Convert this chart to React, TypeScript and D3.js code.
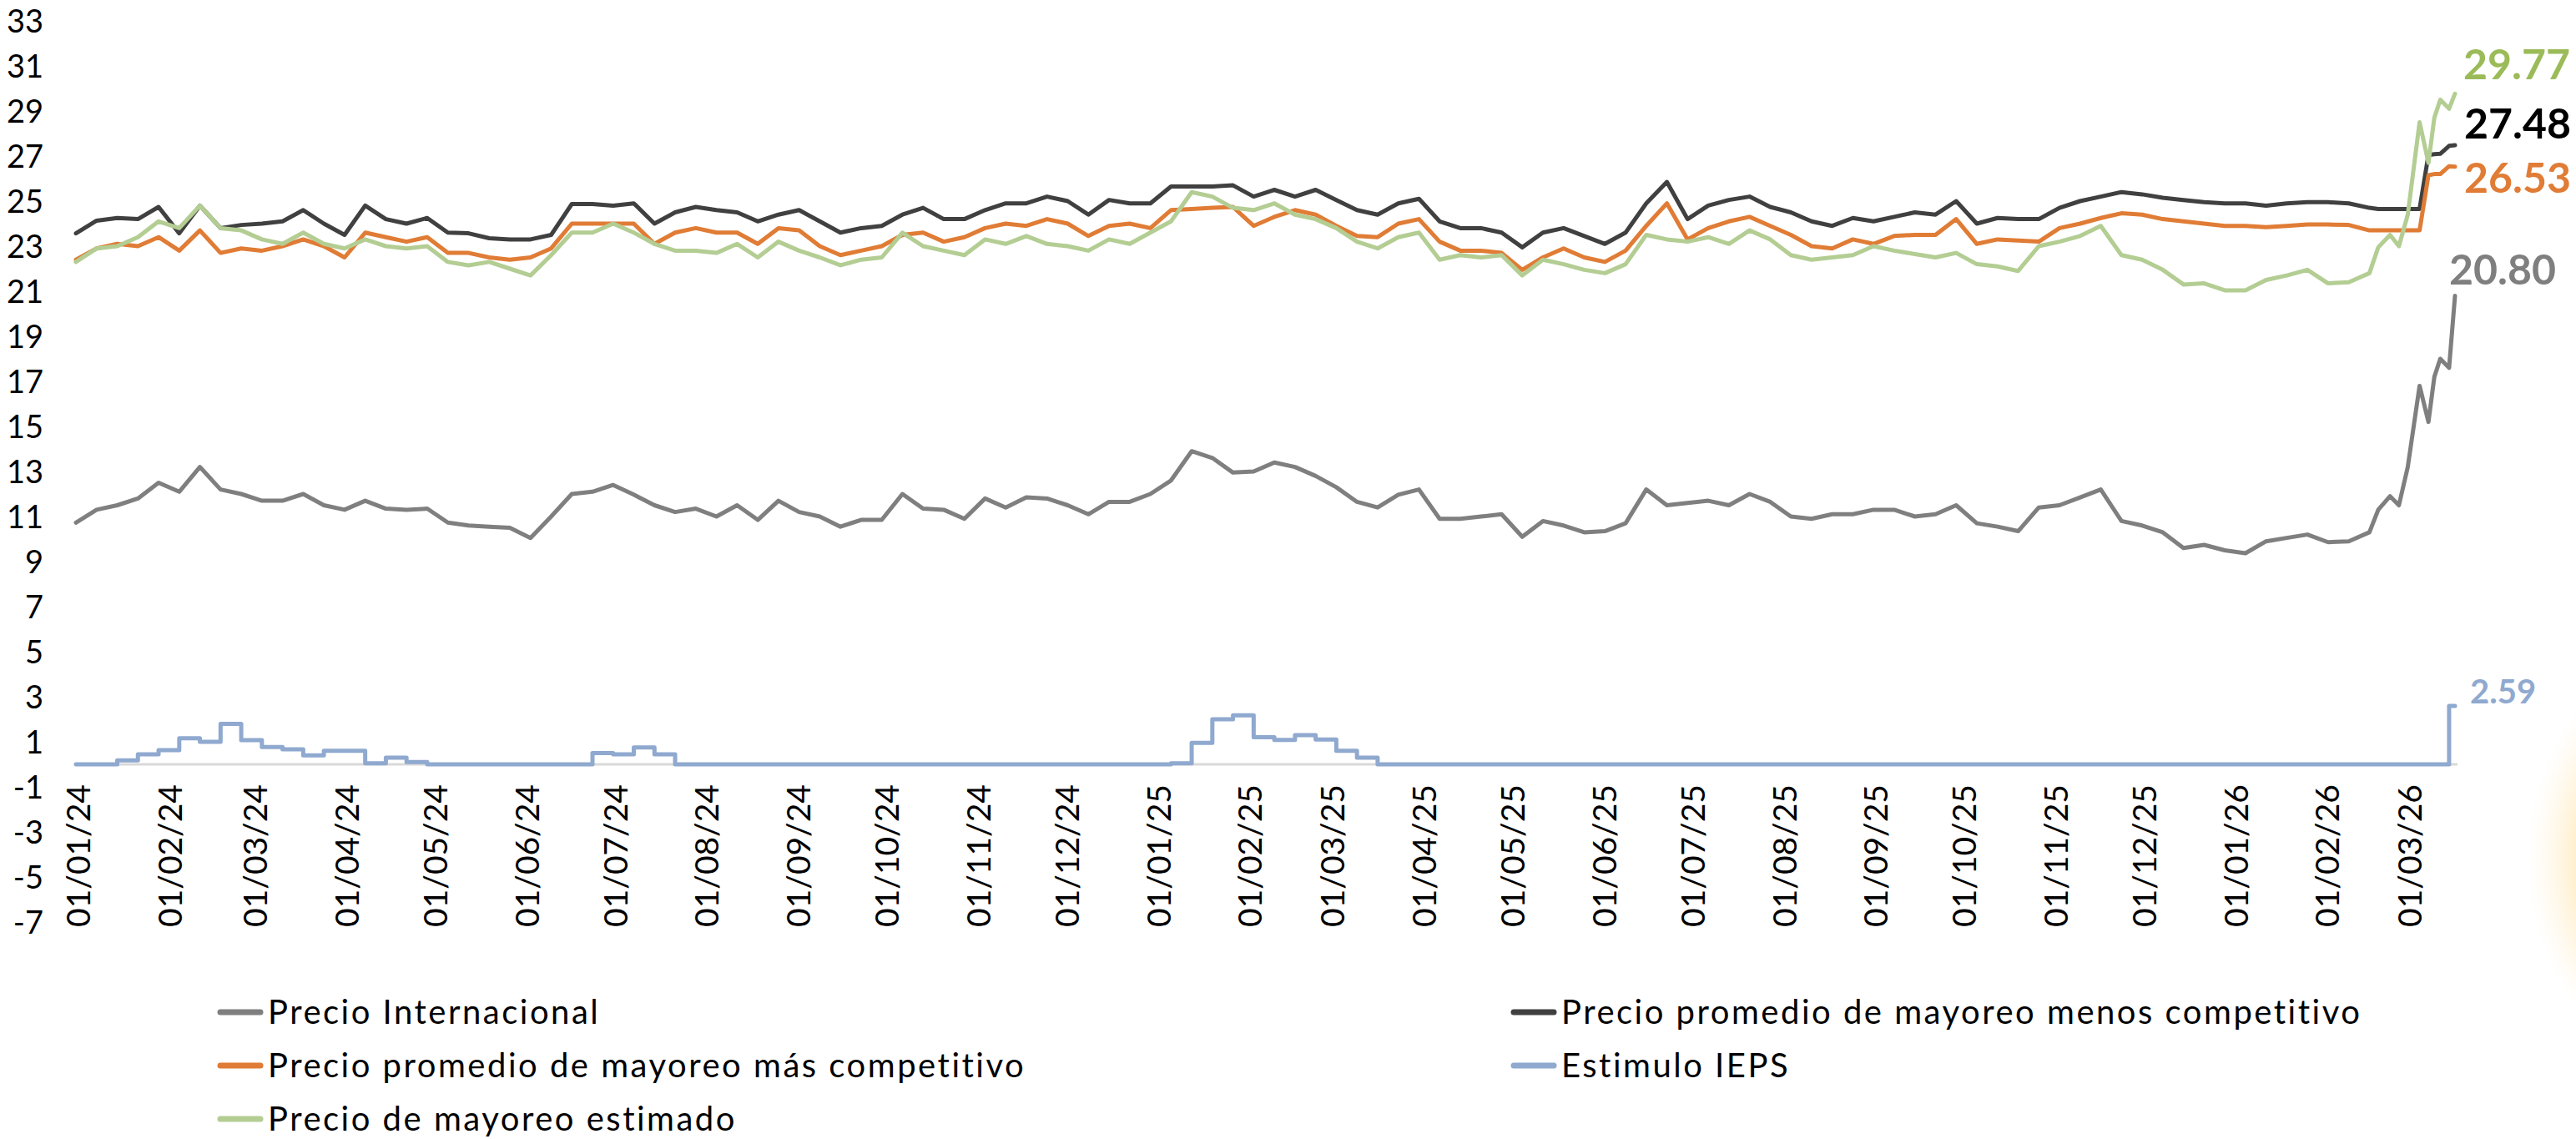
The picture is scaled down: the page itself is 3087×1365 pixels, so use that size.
import React, { useEffect, useRef } from "react";
import * as d3 from "d3";

// weekly observations from 01/01/24 to 16/02/26, then the last days of the series
const startDate = new Date(2024, 0, 1);
const endDate = new Date(2026, 2, 17);
const weeklyDates = d3.timeDay.range(startDate, new Date(2026, 1, 17), 7);
const tailDates = [
  "2026-02-19", "2026-02-23", "2026-02-26", "2026-03-01", "2026-03-05",
  "2026-03-08", "2026-03-10", "2026-03-12", "2026-03-15", "2026-03-17",
];

const weeklyInternacional = [
  10.73, 11.3, 11.5, 11.8, 12.5, 12.1, 13.2, 12.2, 12.0, 11.7,
  11.7, 12.0, 11.5, 11.3, 11.7, 11.35, 11.3, 11.35, 10.73, 10.6,
  10.55, 10.5, 10.05, 11.0, 12.0, 12.1, 12.4, 11.97, 11.5, 11.2,
  11.35, 11.0, 11.5, 10.85, 11.7, 11.2, 11.0, 10.55, 10.85, 10.85,
  12.0, 11.35, 11.3, 10.9, 11.8, 11.4, 11.85, 11.8, 11.5, 11.1,
  11.65, 11.65, 12.0, 12.6, 13.9, 13.6, 12.95, 13.0, 13.4,
  13.2, 12.8, 12.3, 11.65, 11.4, 11.97, 12.2, 10.9, 10.9, 11.0,
  11.1, 10.1, 10.8, 10.6, 10.3, 10.35, 10.7, 12.2, 11.5, 11.6,
  11.7, 11.5, 12.0, 11.65, 11.0, 10.9, 11.1, 11.1, 11.3,
  11.3, 11.0, 11.1, 11.5, 10.7, 10.55, 10.35, 11.4, 11.5, 11.85,
  12.2, 10.8, 10.6, 10.3, 9.6, 9.74, 9.5, 9.37, 9.9, 10.05,
  10.2, 9.86, 9.9, 10.3,
];
const tailInternacional = [11.3, 11.9, 11.5, 13.2, 16.8, 15.2, 17.2, 18.0, 17.6, 20.8];

const weeklyMenosCompetitivo = [
  23.57, 24.13, 24.25, 24.2, 24.74, 23.57, 24.8, 23.8, 23.94, 24.0,
  24.1, 24.6, 24.0, 23.5, 24.8, 24.2, 24.0, 24.25, 23.6, 23.57,
  23.35, 23.3, 23.3, 23.5, 24.87, 24.87, 24.8, 24.9, 24.0, 24.5,
  24.74, 24.6, 24.5, 24.1, 24.4, 24.6, 24.1, 23.6, 23.8, 23.9,
  24.4, 24.7, 24.2, 24.2, 24.6, 24.9, 24.9, 25.2, 25.0, 24.4,
  25.05, 24.9, 24.9, 25.65, 25.65, 25.65, 25.7, 25.2, 25.5,
  25.2, 25.5, 25.05, 24.6, 24.4, 24.9, 25.1, 24.1, 23.8, 23.8,
  23.6, 22.95, 23.6, 23.8, 23.45, 23.1, 23.6, 24.9, 25.85, 24.2,
  24.8, 25.05, 25.2, 24.74, 24.5, 24.1, 23.9, 24.25, 24.1,
  24.3, 24.5, 24.4, 25.0, 24.0, 24.25, 24.2, 24.2, 24.7, 25.0,
  25.2, 25.4, 25.3, 25.15, 25.05, 24.95, 24.9, 24.9, 24.8, 24.9,
  24.95, 24.95, 24.9, 24.7,
];
const tailMenosCompetitivo = [24.65, 24.65, 24.65, 24.65, 24.65, 27.05, 27.08, 27.1, 27.45, 27.48];

const weeklyMasCompetitivo = [
  22.4, 22.9, 23.1, 23.0, 23.4, 22.8, 23.7, 22.7, 22.9, 22.8,
  23.0, 23.3, 23.0, 22.5, 23.6, 23.4, 23.2, 23.4, 22.7, 22.7,
  22.5, 22.4, 22.5, 22.9, 24.0, 24.0, 24.0, 24.0, 23.1, 23.6,
  23.8, 23.6, 23.6, 23.1, 23.8, 23.7, 23.0, 22.6, 22.8, 23.0,
  23.5, 23.6, 23.2, 23.4, 23.8, 24.0, 23.9, 24.2, 24.0, 23.45,
  23.9, 24.0, 23.8, 24.6, 24.65, 24.7, 24.74, 23.9, 24.3,
  24.6, 24.4, 23.9, 23.45, 23.4, 24.0, 24.2, 23.2, 22.8, 22.8,
  22.7, 21.95, 22.5, 22.9, 22.5, 22.3, 22.8, 23.9, 24.9, 23.3,
  23.8, 24.1, 24.3, 23.9, 23.5, 23.0, 22.9, 23.3, 23.1,
  23.45, 23.5, 23.5, 24.2, 23.1, 23.3, 23.25, 23.2, 23.8, 24.0,
  24.25, 24.46, 24.4, 24.2, 24.1, 24.0, 23.9, 23.9, 23.84, 23.9,
  23.96, 23.96, 23.94, 23.7,
];
const tailMasCompetitivo = [23.7, 23.7, 23.7, 23.7, 23.7, 26.15, 26.2, 26.2, 26.55, 26.53];

const weeklyEstimado = [
  22.3, 22.9, 23.0, 23.4, 24.1, 23.8, 24.8, 23.8, 23.7, 23.3,
  23.1, 23.6, 23.1, 22.9, 23.3, 23.0, 22.9, 23.0, 22.3, 22.15,
  22.3, 22.0, 21.7, 22.6, 23.6, 23.6, 24.0, 23.6, 23.1, 22.8,
  22.8, 22.7, 23.1, 22.5, 23.2, 22.8, 22.5, 22.15, 22.4, 22.5,
  23.6, 23.0, 22.8, 22.6, 23.3, 23.1, 23.45, 23.1, 23.0, 22.8,
  23.3, 23.1, 23.6, 24.1, 25.4, 25.2, 24.7, 24.6, 24.9,
  24.4, 24.2, 23.8, 23.2, 22.9, 23.4, 23.6, 22.4, 22.6, 22.5,
  22.6, 21.7, 22.4, 22.2, 21.95, 21.8, 22.2, 23.5, 23.3, 23.2,
  23.4, 23.1, 23.7, 23.3, 22.6, 22.4, 22.5, 22.6, 23.0,
  22.8, 22.65, 22.5, 22.7, 22.2, 22.1, 21.9, 23.0, 23.2, 23.45,
  23.9, 22.6, 22.4, 21.95, 21.3, 21.35, 21.04, 21.04, 21.5, 21.7,
  21.95, 21.35, 21.4, 21.8,
];
const tailEstimado = [22.95, 23.5, 23.0, 24.4, 28.5, 26.7, 28.7, 29.5, 29.1, 29.77];

const weeklyIeps = [
  0, 0, 0.18, 0.44, 0.63, 1.16, 1.0, 1.8, 1.07, 0.77,
  0.67, 0.4, 0.6, 0.6, 0.05, 0.3, 0.1, 0, 0, 0,
  0, 0, 0, 0, 0, 0.5, 0.44, 0.75, 0.44, 0,
  0, 0, 0, 0, 0, 0, 0, 0, 0, 0,
  0, 0, 0, 0, 0, 0, 0, 0, 0, 0,
  0, 0, 0, 0.05, 0.95, 2.0, 2.18, 1.2, 1.08, 1.3,
  1.1, 0.6, 0.3, 0, 0, 0, 0, 0, 0, 0,
  0, 0, 0, 0, 0, 0, 0, 0, 0, 0,
  0, 0, 0, 0, 0, 0, 0, 0, 0, 0,
  0, 0, 0, 0, 0, 0, 0, 0, 0, 0,
  0, 0, 0, 0, 0, 0, 0, 0, 0, 0,
  0, 0,
];
const tailIeps = [0, 0, 0, 0, 0, 0, 0, 0, 2.59, 2.59];

const yTicks = d3.range(-7, 34, 2);

const App = () => {
  const ref = useRef<SVGSVGElement>(null);

  useEffect(() => {
    const width = 3087;
    const height = 1365;
    const font = "Lato, 'Open Sans', sans-serif";

    const parse = d3.timeParse("%Y-%m-%d");
    const dates = [...weeklyDates, ...tailDates.map((d) => parse(d) as Date)];

    const series = [
      { name: "Precio Internacional", values: [...weeklyInternacional, ...tailInternacional], color: "#7f7f7f", label: "#7f7f7f", dx: -7, dy: -13 },
      { name: "Precio promedio de mayoreo menos competitivo", values: [...weeklyMenosCompetitivo, ...tailMenosCompetitivo], color: "#404040", label: "#000000", dx: 11, dy: -8 },
      { name: "Precio promedio de mayoreo más competitivo", values: [...weeklyMasCompetitivo, ...tailMasCompetitivo], color: "#e07c35", label: "#e07c35", dx: 11, dy: 31 },
      { name: "Estimulo IEPS", values: [...weeklyIeps, ...tailIeps], color: "#8fa9cf", label: "#8fa9cf", dx: 18, dy: -3, step: true, small: true },
      { name: "Precio de mayoreo estimado", values: [...weeklyEstimado, ...tailEstimado], color: "#b3cd93", label: "#9bbb59", dx: 10, dy: -17 },
    ];

    const x = d3.scaleTime().domain([startDate, endDate]).range([91, 2942]);
    const y = d3.scaleLinear().domain([-7, 33]).range([1105, 25]);

    const svg = d3.select(ref.current);
    svg.selectAll("*").remove();
    svg.attr("width", width).attr("height", height);

    svg.append("rect").attr("width", width).attr("height", height).attr("fill", "#ffffff");

    // soft decorative circle on the right edge
    const defs = svg.append("defs");
    const grad = defs.append("radialGradient").attr("id", "glow");
    grad.append("stop").attr("offset", "0%").attr("stop-color", "#ffe3a3");
    grad.append("stop").attr("offset", "80%").attr("stop-color", "#ffefcc");
    grad.append("stop").attr("offset", "100%").attr("stop-color", "#fff8ea").attr("stop-opacity", 0);
    svg.append("circle").attr("cx", 3327).attr("cy", 1030).attr("r", 300).attr("fill", "url(#glow)");

    // y axis labels
    svg.append("g")
      .selectAll("text")
      .data(yTicks)
      .enter()
      .append("text")
      .attr("x", 52)
      .attr("y", (d) => y(d))
      .attr("dy", "0.36em")
      .attr("text-anchor", "end")
      .attr("font-family", font)
      .attr("font-size", 38)
      .attr("fill", "#000")
      .text((d) => String(d));

    // zero line
    svg.append("line")
      .attr("x1", 91).attr("x2", 2945)
      .attr("y1", y(0)).attr("y2", y(0))
      .attr("stroke", "#d9d9d9").attr("stroke-width", 3);

    // x axis labels
    const months = d3.timeMonth.range(startDate, new Date(2026, 2, 2));
    const fmt = d3.timeFormat("%d/%m/%y");
    svg.append("g")
      .selectAll("text")
      .data(months)
      .enter()
      .append("text")
      .attr("transform", (d) => `translate(${x(d) + 3},940) rotate(-90)`)
      .attr("dy", "0.36em")
      .attr("text-anchor", "end")
      .attr("font-family", font)
      .attr("font-size", 39)
      .attr("fill", "#000")
      .text((d) => fmt(d));

    // lines
    series.forEach((s) => {
      const line = d3.line<number>()
        .x((_, i) => x(dates[i]))
        .y((d) => y(d))
        .curve(s.step ? d3.curveStepAfter : d3.curveLinear);
      svg.append("path")
        .attr("d", line(s.values))
        .attr("fill", "none")
        .attr("stroke", s.color)
        .attr("stroke-width", 5)
        .attr("stroke-linejoin", "round")
        .attr("stroke-linecap", "round");
    });

    // end labels
    const f2 = d3.format(".2f");
    series.forEach((s) => {
      const last = s.values[s.values.length - 1];
      svg.append("text")
        .attr("x", x(dates[dates.length - 1]) + s.dx)
        .attr("y", y(last) + s.dy)
        .attr("font-family", font)
        .attr("font-weight", 700)
        .attr("font-size", s.small ? 40 : 50)
        .attr("fill", s.label)
        .text(f2(last));
    });

    // legend
    const legendPos = [
      { col: 0, row: 0 },
      { col: 1, row: 0 },
      { col: 0, row: 1 },
      { col: 1, row: 1 },
      { col: 0, row: 2 },
    ];
    const colX = [261, 1811];
    const rowY = [1213, 1277, 1341];
    series.forEach((s, i) => {
      const p = legendPos[i];
      const g = svg.append("g").attr("transform", `translate(${colX[p.col]},${rowY[p.row]})`);
      g.append("line")
        .attr("x1", 3).attr("x2", 51)
        .attr("stroke", s.color)
        .attr("stroke-width", 7)
        .attr("stroke-linecap", "round");
      g.append("text")
        .attr("x", 60)
        .attr("dy", "0.36em")
        .attr("font-family", font)
        .attr("font-size", 40)
        .attr("letter-spacing", 2.5)
        .attr("fill", "#000")
        .text(s.name);
    });
  }, []);

  return <svg ref={ref} style={{ position: "absolute", left: 0, top: 0 }}></svg>;
};

export default App;
